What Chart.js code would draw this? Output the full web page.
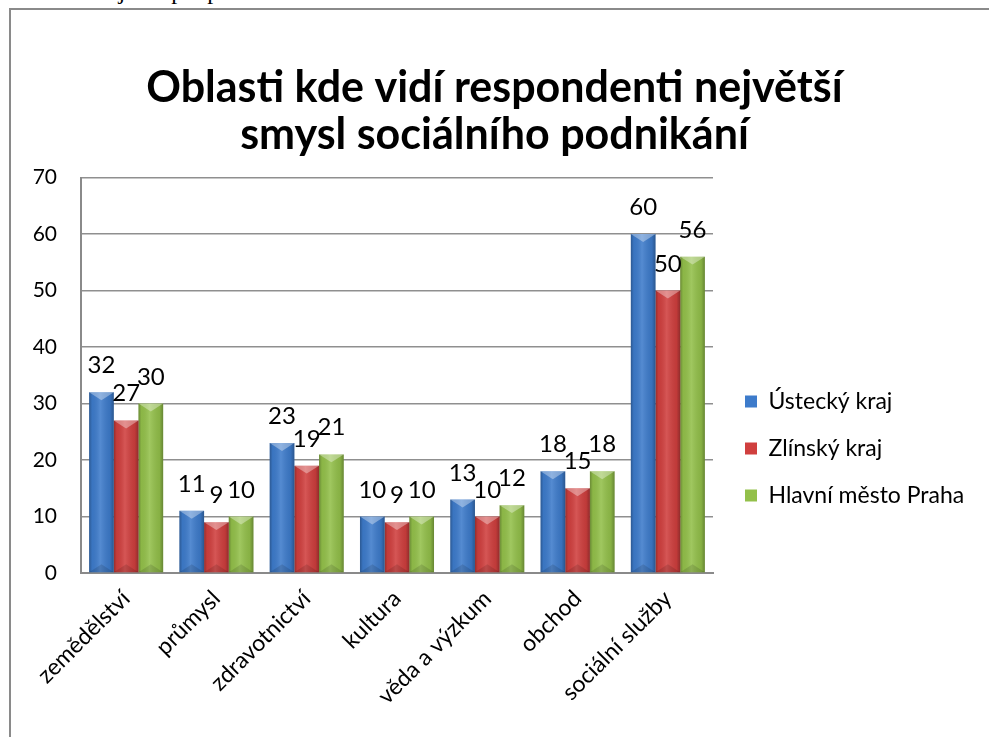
<!DOCTYPE html>
<html>
<head>
<meta charset="utf-8">
<script src="https://cdn.jsdelivr.net/npm/chart.js@4"></script>
<style>
  html, body { margin: 0; padding: 0; background: #fff; overflow: hidden; }
  #wrap { position: relative; width: 989px; height: 737px; }
  #frame { position: absolute; left: 9px; top: 8px; width: 1000px; height: 800px;
           border-left: 2px solid #8a8a8a; border-top: 2px solid #8a8a8a; pointer-events: none; }
  #caption { position: absolute; left: 0; top: -22px; font: 24px "Liberation Serif", serif;
             white-space: nowrap; color: #000; }
  #box { position: absolute; left: 0; top: 0; width: 989px; height: 737px; }
</style>
</head>
<body>
<div id="wrap">
  <div id="caption">Graf č. 3 Nejvíce podporovaná oblast</div>
  <div id="box"><canvas id="oblastiChart"></canvas></div>
  <div id="frame"></div>
</div>
<script>
// Data
const categories = ["zemědělství", "průmysl", "zdravotnictví", "kultura", "věda a výzkum", "obchod", "sociální služby"];
const ustecky = [32, 11, 23, 10, 13, 18, 60];
const zlinsky = [27, 9, 19, 9, 10, 15, 50];
const praha = [30, 10, 21, 10, 12, 18, 56];
const yTicks = [0, 10, 20, 30, 40, 50, 60, 70];

const FONT = "Lato, 'Open Sans', sans-serif";

// value labels above bars
const valueLabels = {
  id: "valueLabels",
  afterDatasetsDraw(chart) {
    const ctx = chart.ctx;
    ctx.save();
    ctx.font = "24px " + FONT;
    ctx.fillStyle = "#000";
    ctx.textAlign = "center";
    ctx.textBaseline = "alphabetic";
    chart.data.datasets.forEach((ds, i) => {
      chart.getDatasetMeta(i).data.forEach((bar, j) => {
        ctx.fillText(ds.data[j], bar.x, bar.y - 19);
      });
    });
    ctx.restore();
  },
};

// fake 3D bevel on each bar
const bevel = {
  id: "bevel",
  afterDatasetsDraw(chart) {
    const ctx = chart.ctx;
    ctx.save();
    chart.data.datasets.forEach((ds, i) => {
      chart.getDatasetMeta(i).data.forEach((bar) => {
        const l = bar.x - bar.width / 2, r = bar.x + bar.width / 2;
        const t = bar.y, b = bar.base;
        const g = ctx.createLinearGradient(l, 0, r, 0);
        g.addColorStop(0, "rgba(0,0,0,0.28)");
        g.addColorStop(0.12, "rgba(0,0,0,0.05)");
        g.addColorStop(0.45, "rgba(255,255,255,0.12)");
        g.addColorStop(0.85, "rgba(0,0,0,0.08)");
        g.addColorStop(1, "rgba(0,0,0,0.3)");
        ctx.fillStyle = g;
        ctx.fillRect(l, t, r - l, b - t);
        const h = Math.min(bar.width * 0.32, (b - t) / 2);
        ctx.beginPath();
        ctx.moveTo(l, t); ctx.lineTo(r, t); ctx.lineTo(bar.x, t + h); ctx.closePath();
        ctx.fillStyle = "rgba(255,255,255,0.35)";
        ctx.fill();
        ctx.beginPath();
        ctx.moveTo(l, b); ctx.lineTo(r, b); ctx.lineTo(bar.x, b - h); ctx.closePath();
        ctx.fillStyle = "rgba(0,0,0,0.12)";
        ctx.fill();
      });
    });
    ctx.restore();
  },
};

// legend: fixed width so the plot ends at x=713, then moved to where the original has it
const legendPlace = {
  id: "legendPlace",
  beforeLayout(chart) {
    const lg = chart.legend;
    if (lg && !lg._fixed) {
      const fit = lg.fit;
      lg.fit = function () {
        fit.call(this);
        this.width = 266;
      };
      lg._fixed = true;
    }
  },
  afterLayout(chart) {
    const lg = chart.legend;
    const h = lg.bottom - lg.top;
    const w = lg.right - lg.left;
    lg.top = 366;
    lg.bottom = 366 + h;
    lg.left = 721;
    lg.right = 721 + w;
  },
};

const ctx = document.getElementById("oblastiChart");
new Chart(ctx, {
  type: "bar",
  data: {
    labels: categories,
    datasets: [
      { label: "Ústecký kraj", data: ustecky, backgroundColor: "#3d7bcb" },
      { label: "Zlínský kraj", data: zlinsky, backgroundColor: "#d03f3e" },
      { label: "Hlavní město Praha", data: praha, backgroundColor: "#93c04a" },
    ],
  },
  options: {
    responsive: true,
    maintainAspectRatio: false,
    animation: false,
    layout: { padding: { left: 10, top: 0, right: 10, bottom: 0 } },
    datasets: { bar: { categoryPercentage: 0.82, barPercentage: 1.0 } },
    plugins: {
      title: {
        display: true,
        text: ["Oblasti kde vidí respondenti největší", "smysl sociálního podnikání"],
        font: { family: FONT, size: 43, weight: "bold", lineHeight: 1.1 },
        color: "#000",
        padding: { top: 64, bottom: 19 },
      },
      legend: {
        position: "right",
        align: "start",
        labels: {
          font: { family: FONT, size: 23 },
          color: "#000",
          boxWidth: 12,
          boxHeight: 12,
          padding: 24,
        },
      },
      tooltip: { enabled: false },
    },
    scales: {
      x: {
        grid: { display: true, drawOnChartArea: false, drawTicks: false },
        border: { color: "#8a8a8a", width: 2 },
        ticks: {
          color: "#000",
          font: { family: FONT, size: 23 },
          minRotation: 45,
          maxRotation: 45,
          padding: 12,
          labelOffset: 0,
        },
        afterFit: (s) => { s.height = 164; },
      },
      y: {
        min: 0,
        max: 70,
        afterBuildTicks: (s) => { s.ticks = yTicks.map((v) => ({ value: v })); },
        grid: { color: "#8f8f8f", lineWidth: 1.5, drawTicks: false },
        border: { color: "#8a8a8a", width: 2 },
        ticks: {
          color: "#000",
          font: { family: FONT, size: 21 },
          padding: 24,
        },
        afterFit: (s) => { s.width = 71; },
      },
    },
  },
  plugins: [bevel, valueLabels, legendPlace],
});
</script>
</body>
</html>
